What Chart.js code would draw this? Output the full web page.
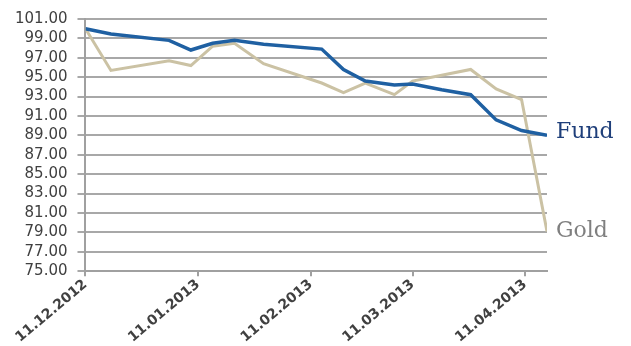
<!DOCTYPE html>
<html>
<head>
<meta charset="utf-8">
<script src="https://cdn.jsdelivr.net/npm/chart.js@4/dist/chart.umd.min.js"></script>
<style>
html,body{margin:0;padding:0;background:#fff;}
#wrap{width:631px;height:346px;}
</style>
</head>
<body>
<div id="wrap"><canvas id="c" width="631" height="346"></canvas></div>
<script>
// days since 11.12.2012
const days = [0, 7, 23, 29, 35, 41, 49, 65, 71, 77, 85, 90, 98, 106, 113, 120, 127];
const fund = [100.0, 99.45, 98.8, 97.8, 98.5, 98.8, 98.4, 97.9, 95.8, 94.6, 94.2, 94.3, 93.7, 93.2, 90.6, 89.5, 89.0];
const gold = [100.0, 95.7, 96.7, 96.2, 98.2, 98.5, 96.4, 94.4, 93.4, 94.4, 93.2, 94.6, 95.2, 95.8, 93.8, 92.7, 79.1];
const tickDays = [0, 31, 62, 90, 121];
const tickLabels = ['11.12.2012', '11.01.2013', '11.02.2013', '11.03.2013', '11.04.2013'];
const yTicks = [75, 77, 79, 81, 83, 85, 87, 89, 91, 93, 95, 97, 99, 101];
const seriesNames = ['Fund', 'Gold'];

const endLabels = {
  id: 'endLabels',
  afterDatasetsDraw(chart) {
    const ctx = chart.ctx;
    const cols = ['#1f3f7a', '#7f7f7f'];
    const offs = [-3, 0];
    chart.data.datasets.forEach((ds, i) => {
      const meta = chart.getDatasetMeta(i);
      const pt = meta.data[meta.data.length - 1];
      ctx.save();
      ctx.font = '22px "DejaVu Serif"';
      ctx.fillStyle = cols[i];
      ctx.textBaseline = 'middle';
      ctx.textAlign = 'left';
      ctx.fillText(ds.label, pt.x + 9, pt.y + offs[i]);
      ctx.restore();
    });
  }
};

new Chart(document.getElementById('c'), {
  type: 'line',
  data: {
    datasets: [
      {
        label: seriesNames[0],
        data: days.map((d, i) => ({x: d, y: fund[i]})),
        borderColor: '#1f60a2',
        borderWidth: 3.5,
        pointRadius: 0,
        tension: 0,
        order: 0
      },
      {
        label: seriesNames[1],
        data: days.map((d, i) => ({x: d, y: gold[i]})),
        borderColor: '#cbc2a4',
        borderWidth: 3,
        pointRadius: 0,
        tension: 0,
        order: 1
      }
    ]
  },
  options: {
    responsive: false,
    animation: false,
    events: [],
    layout: {padding: {left: 5, right: 84, top: 6, bottom: 0}},
    plugins: {legend: {display: false}, tooltip: {enabled: false}},
    scales: {
      x: {
        type: 'linear',
        min: 0,
        max: 127,
        afterBuildTicks(scale) { scale.ticks = tickDays.map(v => ({value: v})); },
        ticks: {
          autoSkip: false,
          minRotation: 40,
          maxRotation: 40,
          color: '#404040',
          font: {family: 'DejaVu Sans', size: 14, weight: 'bold'},
          padding: 0,
          callback: (v) => { const k = tickDays.indexOf(v); return k >= 0 ? tickLabels[k] : ''; }
        },
        grid: {drawOnChartArea: false, drawTicks: true, tickLength: 5, color: '#a0a0a0', lineWidth: 2},
        border: {display: true, color: '#a0a0a0', width: 2}
      },
      y: {
        min: 75,
        max: 101,
        afterBuildTicks(scale) { scale.ticks = yTicks.map(v => ({value: v})); },
        ticks: {
          autoSkip: false,
          color: '#404040',
          font: {family: 'DejaVu Sans', size: 15},
          padding: 10,
          callback: (v) => Number(v).toFixed(2)
        },
        grid: {color: '#a8a8a8', lineWidth: 2, tickLength: 8, drawTicks: true},
        border: {display: true, color: '#a0a0a0', width: 2}
      }
    }
  },
  plugins: [endLabels]
});
</script>
</body>
</html>
